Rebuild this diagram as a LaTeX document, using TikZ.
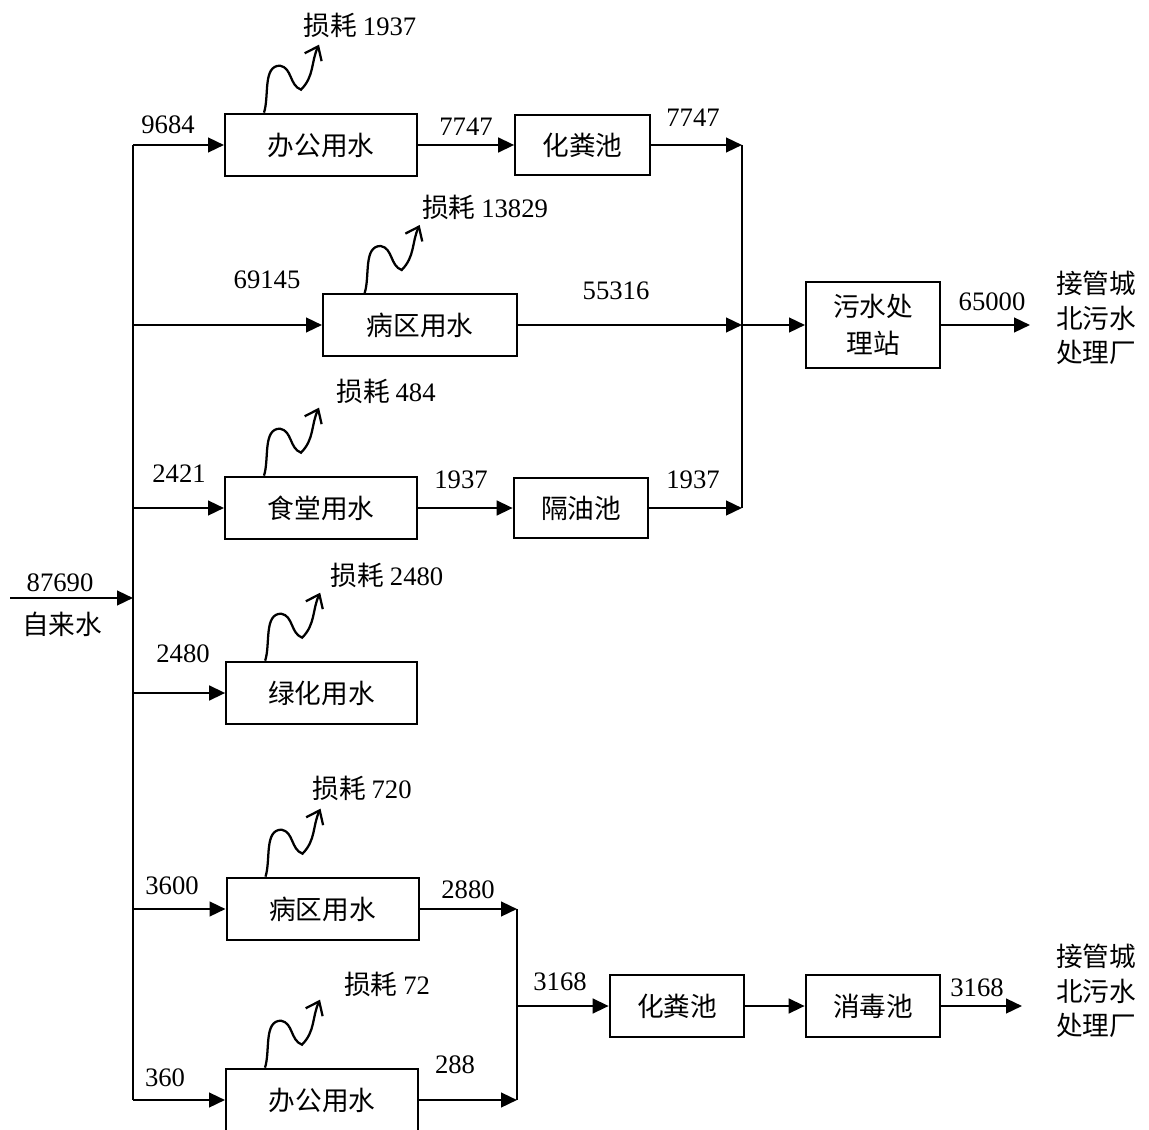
\documentclass[tikz,border=0pt]{standalone}
\usepackage{fontspec}
\setmainfont{Liberation Serif}
\newfontfamily\cjk{Noto Sans CJK SC}
\usetikzlibrary{arrows.meta,positioning}
\tikzset{
  unit/.style={
    rectangle,
    draw,
    line width=1.5pt,
    inner sep=0pt,
    align=center,
    minimum width=144pt,
    minimum height=47pt,
    font=\fontsize{20}{28}\selectfont\cjk
  },
  pool/.style={
    unit,
    minimum width=101pt,
    minimum height=45pt
  },
  num/.style={inner sep=0pt, font=\fontsize{20}{26}\selectfont},
  zh/.style={inner sep=0pt, align=center, font=\fontsize{20}{26}\selectfont\cjk},
  arrow/.style={-{Triangle[length=12pt,width=11pt]}, line width=1.8pt},
  pipe/.style={line width=1.8pt},
  lossarrow/.style={-{Straight Barb[length=9pt,width=14pt]}, line width=1.7pt},
  wiggle/.style={insert path={to[out=72,in=180,looseness=0.9] ++(16,47) to[out=-10,in=160] ++(21,-24) to[out=45,in=245] ++(18,45)}}
}

\begin{document}
\begin{tikzpicture}[x=0.75pt,y=0.75pt]
  \path[use as bounding box, clip] (0,0) rectangle (1149,-1130);

  % units
  \node[unit] (office1) at (321,-145) {办公用水};
  \node[pool] (septic1) at (582.5,-145) {化粪池};
  \node[unit, minimum width=145.5pt, minimum height=46.5pt] (ward1) at (420,-325) {病区用水};
  \node[unit] (canteen) at (321,-508) {食堂用水};
  \node[pool] (grease) at (581,-508) {隔油池};
  \node[unit, minimum width=100.5pt, minimum height=64.5pt] (plant) at (873,-325) {污水处\\理站};
  \node[unit, minimum width=143pt] (green) at (321.5,-693) {绿化用水};
  \node[unit] (ward2) at (322.5,-909) {病区用水};
  \node[unit] (office2) at (322,-1100) {办公用水};
  \node[pool, minimum height=46.5pt] (septic2) at (677,-1006) {化粪池};
  \node[pool, minimum height=46.5pt] (disinfect) at (873,-1006) {消毒池};

  % junctions
  \coordinate (trunk) at (133,0);
  \coordinate (source) at (10,-598);
  \coordinate (merge1) at (742,-325);
  \coordinate (merge2) at (517,-1006);
  \coordinate (out1) at (1030,-325);
  \coordinate (out2) at (1022,-1006);

  % supply
  \draw[arrow] (source) -- (trunk |- source);
  \node[num] (inflow) at (60,-583) {87690};
  \node[zh] (tap) at (62,-624) {自来水};
  \draw[pipe] (trunk |- office1.west) -- (trunk |- office2.west);
  \draw[arrow] (trunk |- office1.west) -- (office1.west);
  \draw[arrow] (trunk |- ward1.west) -- (ward1.west);
  \draw[arrow] (trunk |- canteen.west) -- (canteen.west);
  \draw[arrow] (trunk |- green.west) -- (green.west);
  \draw[arrow] (trunk |- ward2.west) -- (ward2.west);
  \draw[arrow] (trunk |- office2.west) -- (office2.west);

  % upper sewage line
  \draw[arrow] (office1) -- (septic1);
  \draw[arrow] (septic1.east) -- (merge1 |- septic1.east);
  \draw[arrow] (ward1.east) -- (merge1);
  \draw[arrow] (canteen) -- (grease);
  \draw[arrow] (grease.east) -- (merge1 |- grease.east);
  \draw[pipe] (merge1 |- septic1.east) -- (merge1 |- grease.east);
  \draw[arrow] (merge1) -- (plant.west);
  \draw[arrow] (plant.east) -- (out1);
  \node[zh] (city1) at (1096,-318) {接管城\\北污水\\处理厂};

  % lower sewage line
  \draw[arrow] (ward2.east) -- (merge2 |- ward2.east);
  \draw[arrow] (office2.east) -- (merge2 |- office2.east);
  \draw[pipe] (merge2 |- ward2.east) -- (merge2 |- office2.east);
  \draw[arrow] (merge2) -- (septic2.west);
  \draw[arrow] (septic2) -- (disinfect);
  \draw[arrow] (disinfect.east) -- (out2);
  \node[zh] (city2) at (1096,-991) {接管城\\北污水\\处理厂};

  % flows
  \node[num] (q1) at (168,-125) {9684};
  \node[num] (q2) at (466,-127) {7747};
  \node[num] (q3) at (693,-118) {7747};
  \node[num] (q4) at (267,-280) {69145};
  \node[num] (q5) at (616,-291) {55316};
  \node[num] (q6) at (992,-302) {65000};
  \node[num] (q7) at (179,-474) {2421};
  \node[num] (q8) at (461,-480) {1937};
  \node[num] (q9) at (693,-480) {1937};
  \node[num] (q10) at (183,-654) {2480};
  \node[num] (q11) at (172,-886) {3600};
  \node[num] (q12) at (468,-890) {2880};
  \node[num] (q13) at (165,-1078) {360};
  \node[num] (q14) at (455,-1065) {288};
  \node[num] (q15) at (560,-982) {3168};
  \node[num] (q16) at (977,-988) {3168};

  % losses
  \node[zh] (loss1) at (360,-25) {损耗 {\rmfamily 1937}};
  \node[zh] (loss2) at (485,-207) {损耗 {\rmfamily 13829}};
  \node[zh] (loss3) at (386,-391) {损耗 {\rmfamily 484}};
  \node[zh] (loss4) at (387,-575) {损耗 {\rmfamily 2480}};
  \node[zh] (loss5) at (362,-788) {损耗 {\rmfamily 720}};
  \node[zh] (loss6) at (387,-984) {损耗 {\rmfamily 72}};
  \draw[lossarrow] ([xshift=30pt]office1.north west) [wiggle];
  \draw[lossarrow] ([xshift=32pt]ward1.north west) [wiggle];
  \draw[lossarrow] ([xshift=30pt]canteen.north west) [wiggle];
  \draw[lossarrow] ([xshift=30pt]green.north west) [wiggle];
  \draw[lossarrow] ([xshift=30pt]ward2.north west) [wiggle];
  \draw[lossarrow] ([xshift=30pt]office2.north west) [wiggle];
\end{tikzpicture}
\end{document}
